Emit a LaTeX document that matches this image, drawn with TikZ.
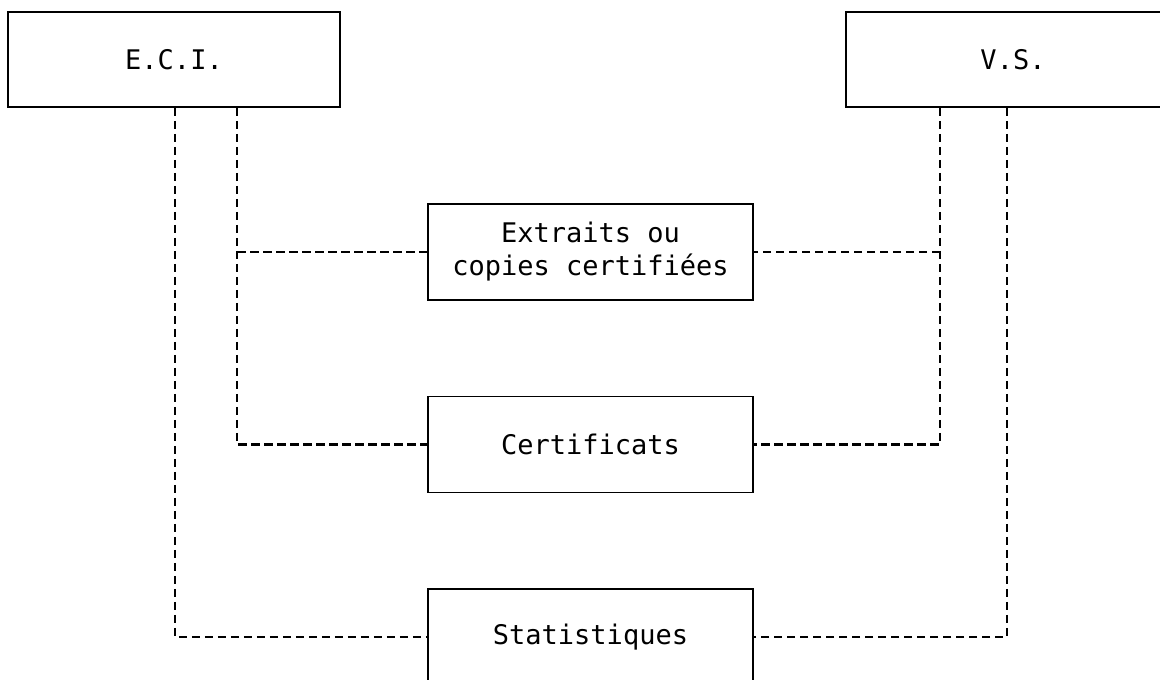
\documentclass[tikz,border=0pt]{standalone}
\usepackage{fontspec}
\setmainfont{DejaVu Sans Mono}
\begin{document}
\begin{tikzpicture}[x=1pt,y=-1pt,
  box/.style={draw, line width=1.9pt, inner sep=0pt, align=center,
    font=\fontsize{27}{33}\selectfont, minimum width=325pt, minimum height=96pt},
  link/.style={line width=2.6pt, dash pattern=on 8.5pt off 4.5pt}]
\useasboundingbox (0,0) rectangle (1160,680);
\clip (0,0) rectangle (1160,680);
\node[box, minimum width=332pt, minimum height=95pt] (eci) at (174,59.5) {E.C.I.};
\node[box, minimum width=334pt, minimum height=95pt] (vs) at (1013,59.5) {V.S.};
\node[box] (ext) at (590.5,252) {Extraits ou\\copies certifiées};
\node[box] (cert) at (590.5,444.5) {Certificats};
\node[box] (stat) at (590.5,637) {Statistiques};
\coordinate (a1) at (175,0);
\coordinate (a2) at (237,0);
\coordinate (b1) at (940,0);
\coordinate (b2) at (1007,0);
\draw[link] (eci.south -| a1) -- (a1 |- stat.west) -- (stat.west);
\draw[link] (eci.south -| a2) -- (a2 |- cert.west) -- (cert.west);
\draw[link] (a2 |- ext.west) -- (ext.west);
\draw[link] (vs.south -| b2) -- (b2 |- stat.east) -- (stat.east);
\draw[link] (vs.south -| b1) -- (b1 |- cert.east) -- (cert.east);
\draw[link] (b1 |- ext.east) -- (ext.east);
\end{tikzpicture}
\end{document}
